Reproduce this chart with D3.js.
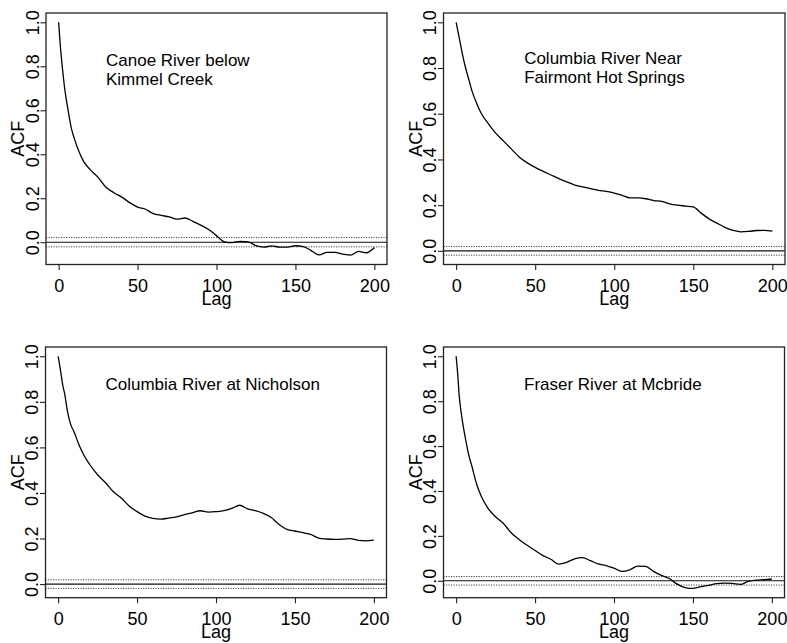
<!DOCTYPE html>
<html>
<head>
<meta charset="utf-8">
<script src="https://cdn.jsdelivr.net/npm/d3@7"></script>
<style>
  body { margin: 0; background: #fff; }
  svg { display: block; }
  text { font-family: "Liberation Sans", Arial, Helvetica, sans-serif; fill: #000; }
</style>
</head>
<body>
<svg id="chart" width="787" height="643"></svg>
<script>
const lags = [0, 1, 2, 3, 4, 6, 8, 10, 13, 16, 20,
  25, 30, 35, 40, 45, 50, 55, 60, 65, 70,
  75, 80, 85, 90, 95, 100, 105, 110, 115, 120,
  125, 130, 135, 140, 145, 150, 155, 160, 165, 170,
  175, 180, 185, 190, 195, 200];

const acfCanoe = [1.0, 0.90, 0.82, 0.75, 0.69, 0.60, 0.52, 0.47, 0.41, 0.365, 0.33,
  0.295, 0.25, 0.225, 0.205, 0.18, 0.16, 0.15, 0.13, 0.122, 0.115,
  0.105, 0.11, 0.095, 0.078, 0.058, 0.03, 0.002, -0.002, 0.004, 0.002,
  -0.016, -0.022, -0.017, -0.022, -0.022, -0.016, -0.02, -0.038, -0.058, -0.046,
  -0.046, -0.054, -0.059, -0.042, -0.048, -0.024];

const acfFairmont = [1.0, 0.965, 0.93, 0.895, 0.86, 0.80, 0.75, 0.70, 0.645, 0.60, 0.56,
  0.515, 0.48, 0.445, 0.41, 0.385, 0.365, 0.348, 0.332, 0.316, 0.302,
  0.288, 0.28, 0.272, 0.265, 0.26, 0.253, 0.243, 0.232, 0.232, 0.228,
  0.22, 0.216, 0.206, 0.2, 0.196, 0.192, 0.165, 0.14, 0.121, 0.103,
  0.09, 0.083, 0.085, 0.089, 0.09, 0.086];

const acfNicholson = [1.0, 0.96, 0.915, 0.87, 0.84, 0.755, 0.70, 0.67, 0.615, 0.57, 0.525,
  0.48, 0.445, 0.405, 0.378, 0.343, 0.318, 0.298, 0.288, 0.285, 0.29,
  0.295, 0.305, 0.313, 0.322, 0.316, 0.318, 0.322, 0.332, 0.346, 0.33,
  0.322, 0.31, 0.292, 0.262, 0.24, 0.233, 0.226, 0.218, 0.202, 0.198,
  0.196, 0.197, 0.2, 0.192, 0.19, 0.193];

const acfMcbride = [1.0, 0.92, 0.82, 0.76, 0.71, 0.63, 0.56, 0.51, 0.43, 0.375, 0.325,
  0.285, 0.255, 0.213, 0.183, 0.158, 0.135, 0.112, 0.096, 0.074, 0.082,
  0.098, 0.103, 0.09, 0.075, 0.068, 0.056, 0.042, 0.049, 0.065, 0.064,
  0.042, 0.024, 0.01, -0.015, -0.03, -0.034, -0.026, -0.02, -0.013, -0.01,
  -0.012, -0.016, -0.003, 0.003, 0.005, 0.008];

// 95% bounds drawn as dotted lines
const bounds = [0.021, 0.019, 0.019, 0.019];

const titles = [
  ["Canoe River below", "Kimmel Creek"],
  ["Columbia River Near", "Fairmont Hot Springs"],
  ["Columbia River at Nicholson"],
  ["Fraser River at Mcbride"]
];
const series = [acfCanoe, acfFairmont, acfNicholson, acfMcbride];

const xTicks = [0, 50, 100, 150, 200];
const yTicks = [0, 0.2, 0.4, 0.6, 0.8, 1.0];

// plot boxes: [left, right, top, bottom], title anchor in data units
const boxes = [
  { l: 46, r: 387, t: 13, b: 264.5, tx: 30, ty: 0.80 },
  { l: 443.5, r: 785, t: 13, b: 264.5, tx: 43, ty: 0.817 },
  { l: 45.5, r: 386.5, t: 347, b: 597.7, tx: 30, ty: 0.851 },
  { l: 443.5, r: 784.5, t: 347, b: 597.7, tx: 43, ty: 0.85 }
];

const svg = d3.select("#chart");
const fs = 18;

boxes.forEach((bx, i) => {
  const vals = series[i];
  const pts = lags.map((l, k) => [l, vals[k]]);

  // R style limits: data range extended 4% each side
  const lo = Math.min(d3.min(vals), -bounds[i]);
  const hi = 1;
  const pad = 0.04 * (hi - lo);
  const x = d3.scaleLinear().domain([-8, 208]).range([bx.l, bx.r]);
  const y = d3.scaleLinear().domain([lo - pad, hi + pad]).range([bx.b, bx.t]);

  const g = svg.append("g");

  // zero line and bounds
  g.append("line")
    .attr("x1", bx.l).attr("x2", bx.r)
    .attr("y1", y(0)).attr("y2", y(0))
    .attr("stroke", "#111").attr("stroke-width", 1.1);
  [bounds[i], -bounds[i]].forEach(v => {
    g.append("line")
      .attr("x1", bx.l).attr("x2", bx.r)
      .attr("y1", y(v)).attr("y2", y(v))
      .attr("stroke", "#444").attr("stroke-width", 1)
      .attr("stroke-dasharray", "1.2,1.3");
  });

  // acf curve
  const line = d3.line()
    .x(d => x(d[0]))
    .y(d => y(d[1]))
    .curve(d3.curveMonotoneX);
  g.append("path")
    .datum(pts)
    .attr("fill", "none")
    .attr("stroke", "#000")
    .attr("stroke-width", 1.3)
    .attr("d", line);

  // axes
  const ax = g.append("g")
    .attr("transform", `translate(0,${bx.b})`)
    .call(d3.axisBottom(x).tickValues(xTicks).tickSize(5.5).tickFormat(d3.format("d")));
  const ay = g.append("g")
    .attr("transform", `translate(${bx.l},0)`)
    .call(d3.axisLeft(y).tickValues(yTicks).tickSize(5.5).tickFormat(d3.format(".1f")));
  [ax, ay].forEach(a => {
    a.select(".domain").remove();
    a.selectAll(".tick line").attr("stroke", "#222").attr("stroke-width", 1.1);
    a.selectAll("text").attr("font-size", fs).attr("font-family", null);
  });
  ax.selectAll("text").attr("dy", null).attr("y", 27.5);
  ay.selectAll("text")
    .attr("x", null).attr("dy", null)
    .attr("text-anchor", "middle")
    .attr("transform", "translate(-7.5,0) rotate(-90)");

  // box
  g.append("rect")
    .attr("x", bx.l).attr("y", bx.t)
    .attr("width", bx.r - bx.l).attr("height", bx.b - bx.t)
    .attr("fill", "none").attr("stroke", "#222").attr("stroke-width", 1.3);

  // axis titles
  g.append("text")
    .attr("x", x(100)).attr("y", bx.b + 40.5)
    .attr("text-anchor", "middle").attr("font-size", fs)
    .text("Lag");
  g.append("text")
    .attr("transform", `translate(${bx.l - 22},${(bx.t + bx.b) / 2}) rotate(-90)`)
    .attr("text-anchor", "middle").attr("font-size", fs)
    .text("ACF");

  // station name
  const tt = g.append("text")
    .attr("x", x(bx.tx)).attr("y", y(bx.ty))
    .attr("font-size", 17);
  titles[i].forEach((s, k) => {
    tt.append("tspan").attr("x", x(bx.tx)).attr("dy", k === 0 ? 0 : 19).text(s);
  });
});
</script>
</body>
</html>
